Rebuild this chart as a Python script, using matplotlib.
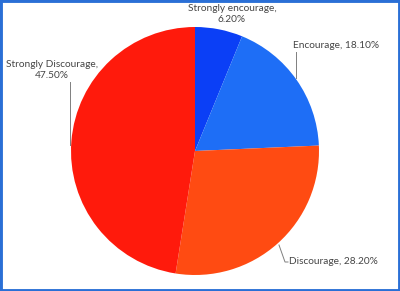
import matplotlib.pyplot as plt
from matplotlib.patches import Rectangle

labels = ['Strongly encourage', 'Encourage', 'Discourage', 'Strongly Discourage']
values = [6.2, 18.1, 28.2, 47.5]
colors = ['#0b3ff6', '#1e6ef6', '#ff4b12', '#ff1a0c']

plt.rcParams['font.family'] = ['Lato', 'DejaVu Sans']

fig = plt.figure(figsize=(4, 2.91), dpi=100)
fig.patch.set_facecolor('white')

# pie centred at ~(195,151) px, radius ~124 px
ax = fig.add_axes([71 / 400, (291 - 151 - 124) / 291, 248 / 400, 248 / 291])
ax.pie(values, colors=colors, startangle=90, counterclock=False,
       wedgeprops=dict(linewidth=0))
ax.set_xlim(-1, 1)
ax.set_ylim(-1, 1)
ax.set_aspect('equal')
ax.axis('off')

def px(x, y):
    return ((x - 195) / 124, (151 - y) / 124)

tc = '#454545'
fs = 7.3
txt = [f'{l}, {v:.2f}%' for l, v in zip(labels, values)]

x, y = px(232, 14)
ax.text(x, y, txt[0].replace(', ', ',\n'), ha='center', va='center',
        fontsize=fs, color=tc, linespacing=1.4, clip_on=False)
x, y = px(293, 46)
ax.text(x, y, txt[1], ha='left', va='center', fontsize=fs, color=tc, clip_on=False)
x, y = px(289, 262)
ax.text(x, y, txt[2], ha='left', va='center', fontsize=fs, color=tc, clip_on=False)
x, y = px(52, 70)
ax.text(x, y, txt[3].replace(', ', ',\n'), ha='center', va='center',
        fontsize=fs, color=tc, linespacing=1.4, clip_on=False)

# leader lines
lc = '#7f7f7f'
for pts in ([(296, 52), (296, 78)],
            [(70, 82), (70, 145)],
            [(279, 245), (285, 262), (288, 262)]):
    xs, ys = zip(*[px(a, b) for a, b in pts])
    ax.plot(xs, ys, color=lc, lw=0.7, clip_on=False)

fig.patches.append(Rectangle((0, 0), 1, 1, transform=fig.transFigure,
                             fill=False, edgecolor='#2a6fd6', linewidth=3.5))

fig.savefig('out.png', dpi=100)
